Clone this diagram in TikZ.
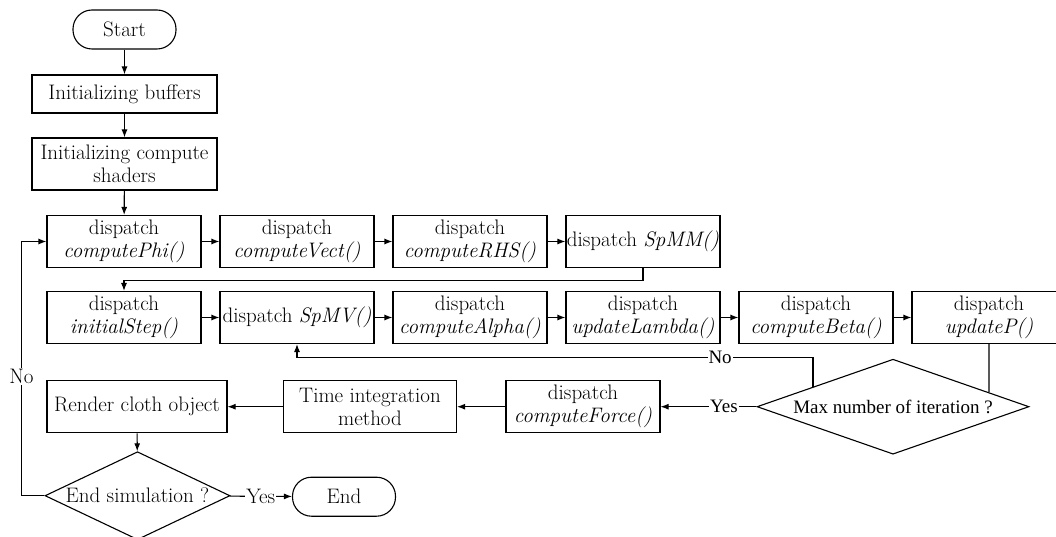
\documentclass[tikz,border=0pt]{standalone}
\usepackage{fontspec}
\newfontfamily\timesfamily{Liberation Serif}
\usepackage{tikz}
\usetikzlibrary{shapes.geometric,arrows.meta,intersections}

\tikzset{
  base/.style={draw, line width=1.1pt, inner xsep=1pt, inner ysep=2pt, align=center,
    font=\fontsize{21}{23}\selectfont},
  proc/.style={base, rectangle, minimum width=154pt, minimum height=52pt},
  term/.style={base, rectangle, rounded corners=19pt, minimum width=103pt, minimum height=39pt},
  decide/.style={base, diamond, inner sep=0pt},
  lbl/.style={fill=white, inner sep=1pt, font=\fontsize{21}{23}\selectfont},
  timesfont/.style={font=\timesfamily\fontsize{19}{22}\selectfont},
  arr/.style={-{Latex[length=8pt,width=6pt]}, line width=1.1pt},
  link/.style={line width=1.1pt}
}

\begin{document}
\begin{tikzpicture}[x=1pt,y=-1pt]
			\useasboundingbox (0,0) rectangle (1056,537);
			% start and setup
			\node[term] (start) at (124.5,29.5) {Start};
			\node[proc, minimum width=185pt, minimum height=38pt] (buf) at (124.5,94) {Initializing buffers};
			\node[proc, minimum width=185pt] (shad) at (124.5,164) {Initializing compute\\shaders};
			
			% first row
			\node[proc] (phi) at (124,241.5) {dispatch\\\textit{computePhi()}};
			\node[proc] (vect) at (297,241.5) {dispatch\\\textit{computeVect()}};
			\node[proc] (rhs) at (470,241.5) {dispatch\\\textit{computeRHS()}};
			\node[proc] (spmm) at (643,241.5) {dispatch \textit{SpMM()}};
			
			% second row
			\node[proc] (init) at (124,317.5) {dispatch\\\textit{initialStep()}};
			\node[proc] (spmv) at (297,317.5) {dispatch \textit{SpMV()}};
			\node[proc] (alpha) at (470,317.5) {dispatch\\\textit{computeAlpha()}};
			\node[proc] (lambda) at (643,317.5) {dispatch\\\textit{updateLambda()}};
			\node[proc] (beta) at (816,317.5) {dispatch\\\textit{computeBeta()}};
			\node[proc] (upd) at (989,317.5) {dispatch\\\textit{updateP()}};
			
			% third row
			\node[proc, minimum width=180pt] (render) at (137,406.7) {Render cloth object};
			\node[proc, minimum width=173pt] (integ) at (370,406.7) {Time integration\\method};
			\node[proc] (force) at (583,406.7) {dispatch\\\textit{computeForce()}};
			\node[decide, timesfont, aspect=2.86, minimum width=272pt, minimum height=95pt] (maxit) at (893,406.7) {Max number of iteration ?};
			
			% end
			\node[decide, aspect=2.1, minimum width=185pt, minimum height=88pt] (endsim) at (137.5,495.7) {End simulation ?};
			\node[term] (end) at (344,496.7) {End};
			
			% connectors
			\draw[arr] (start) -- (buf);
			\draw[arr] (buf) -- (shad);
			\draw[arr] (shad) -- (phi);
			\draw[arr] (phi) -- (vect);
			\draw[arr] (vect) -- (rhs);
			\draw[arr] (rhs) -- (spmm);
			\draw[arr] (spmm.south) -- ++(0,12) -| (init.north);
			\draw[arr] (init) -- (spmv);
			\draw[arr] (spmv) -- (alpha);
			\draw[arr] (alpha) -- (lambda);
			\draw[arr] (lambda) -- (beta);
			\draw[arr] (beta) -- (upd);
			
			\path[name path=maxtr] (maxit.north) -- (maxit.east);
			\path[name path=maxtl] (maxit.north) -- (maxit.west);
			\path[name path=updv] (upd.south) -- ++(0,80);
			\path[name path=nov] ([xshift=-80pt]maxit.center) -- ++(0,-80);
			\draw[link, name intersections={of=maxtr and updv, by=updin}] (upd.south) -- (updin);
			\draw[arr, name intersections={of=maxtl and nov, by=noout}] (noout) |- node[lbl, timesfont, pos=0.59]{No} ([yshift=-13pt]spmv.south) -- (spmv.south);
			
			\draw[arr] (maxit.west) -- node[lbl, timesfont, pos=0.34]{Yes} (force.east);
			\draw[arr] (force) -- (integ);
			\draw[arr] (integ) -- (render);
			\draw[arr] (render) -- (endsim);
			\draw[arr] (endsim) -- node[lbl]{Yes} (end);
			\draw[arr] (endsim.west) -- ++(-23,0) |- node[lbl, pos=0.234]{No} (phi.west);
		\end{tikzpicture}
\end{document}
